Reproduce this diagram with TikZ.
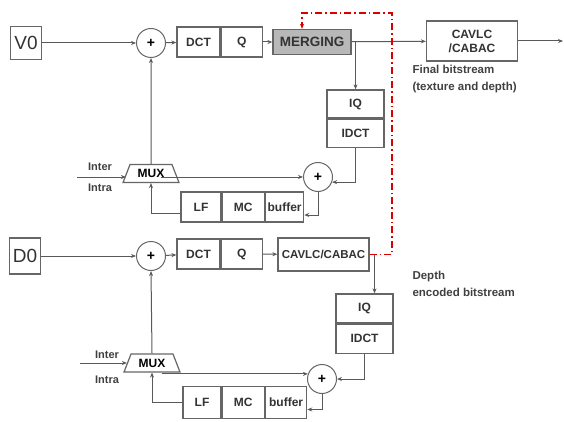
\documentclass[tikz,border=0pt]{standalone}
\usepackage{fontspec}
\setmainfont{Liberation Sans}
\usetikzlibrary{arrows.meta,positioning,shapes.geometric}

\begin{document}
\begin{tikzpicture}[x=1pt,y=-1pt,font=\bfseries\fontsize{12}{13}\selectfont,
  >={Stealth[length=5pt,width=4pt]},
  blk/.style={draw=black!60,line width=1.3pt,fill=white,inner sep=0pt,minimum height=30pt,text=black!80},
  src/.style={blk,font=\mdseries\fontsize{19}{19}\selectfont,minimum width=31pt,minimum height=33pt},
  sumc/.style={circle,draw=black!60,line width=1pt,fill=white,minimum size=29pt,inner sep=0pt,font=\bfseries\fontsize{14}{14}\selectfont},
  muxb/.style={trapezium,trapezium angle=62,trapezium stretches=true,draw=black!60,line width=1.2pt,fill=white,minimum width=56pt,minimum height=18pt,inner sep=0pt},
  lbl/.style={text=black!75,font=\bfseries\fontsize{11.5}{17}\selectfont,align=left},
  io/.style={text=black!75,font=\bfseries\fontsize{11}{11}\selectfont,inner sep=0pt},
  wire/.style={draw=black!65,line width=1pt},
  redl/.style={draw=red!85!black,line width=1.2pt,dash pattern=on 7pt off 3pt on 1.5pt off 3pt}]
\useasboundingbox (0,0) rectangle (564,422);
% texture (V0) branch
\node[src] (v0) at (26,43) {V0};
\node[sumc] (plus1) at (151,43) {+};
\node[blk,minimum width=43pt] (dct1) at (198.5,42) {DCT};
\node[blk,minimum width=41pt,right=0pt of dct1] (q1) {Q};
\node[blk,minimum width=78pt,minimum height=25pt,fill=black!28,font=\bfseries\fontsize{13.5}{14}\selectfont] (merge) at (312,42) {MERGING};
\node[blk,minimum width=91pt,minimum height=40pt,align=center,font=\bfseries\fontsize{12}{14}\selectfont] (cav1) at (472,41) {CAVLC\\/CABAC};
\coordinate (out1) at (563,41);
\node[lbl,anchor=north west] (fin) at (409,62) {Final bitstream\\(texture and depth)};
\node[blk,minimum width=57pt,minimum height=28pt] (iq1) at (355.5,104) {IQ};
\node[blk,minimum width=57pt,minimum height=28pt,below=0pt of iq1] (idct1) {IDCT};
\node[sumc] (plus2) at (318,177) {+};
\node[muxb] (mux1) at (151,173.5) {MUX};
\node[io] (inter1) at (100,167) {Inter};
\node[io] (intra1) at (100,188) {Intra};
\coordinate (in1) at (77,177);
\node[blk,minimum width=40pt] (lf1) at (201,207) {LF};
\node[blk,minimum width=42pt,right=0pt of lf1] (mc1) {MC};
\node[blk,minimum width=38pt,right=0pt of mc1] (buf1) {buffer};
% depth (D0) branch
\node[src,minimum height=36pt] (d0) at (25,256) {D0};
\node[sumc] (plus3) at (151,256) {+};
\node[blk,minimum width=43pt] (dct2) at (198.5,254) {DCT};
\node[blk,minimum width=41pt,right=0pt of dct2] (q2) {Q};
\node[blk,minimum width=91pt,minimum height=33pt,font=\bfseries\fontsize{11.5}{12}\selectfont] (cav2) at (323.5,254.5) {CAVLC/CABAC};
\node[lbl,anchor=north west] (dep) at (409,268) {Depth\\encoded bitstream};
\node[blk,minimum width=57pt,minimum height=29pt] (iq2) at (364.5,308.5) {IQ};
\node[blk,minimum width=57pt,minimum height=29pt,below=0pt of iq2] (idct2) {IDCT};
\node[sumc] (plus4) at (322,379) {+};
\node[muxb] (mux2) at (152,363) {MUX};
\node[io] (inter2) at (107,355) {Inter};
\node[io] (intra2) at (107,380) {Intra};
\coordinate (in2) at (80,363);
\node[blk,minimum width=38pt,minimum height=32pt] (lf2) at (202,402.5) {LF};
\node[blk,minimum width=42pt,minimum height=32pt,right=0pt of lf2] (mc2) {MC};
\node[blk,minimum width=41pt,minimum height=32pt,right=0pt of mc2] (buf2) {buffer};
% connectors, top
\draw[wire,->] (v0) -- (plus1);
\draw[wire,->] (plus1) -- (dct1);
\draw[wire,->] (q1) -- (merge);
\draw[wire,->] (merge) -- (cav1);
\draw[wire,->] (cav1) -- (out1);
\coordinate (br1) at (merge.east -| iq1.north);
\draw[wire,->] (br1) -- (iq1.north);
\draw[wire,->] (idct1.south) |- (plus2.-20);
\draw[wire,->] (plus2.west -| mux1.south east) -- (plus2.west);
\draw[wire,->] (in1) -- (in1 -| mux1.west);
\draw[wire,->] (mux1.north) -- (plus1.south);
\draw[wire,->] ([yshift=-6pt]lf1.west) -| (mux1.south);
\draw[wire,->] (plus2.south) |- ([yshift=-8pt]buf1.east);
% connectors, bottom
\draw[wire,->] (d0) -- (plus3);
\draw[wire,->] (plus3) -- (dct2);
\draw[wire,->] (q2) -- (cav2);
\draw[wire,->] (cav2.east) -| ([xshift=10pt]iq2.north);
\draw[wire,->] (idct2.south) |- (plus4.east);
\draw[wire,->] (plus4.160 -| mux2.south east) -- (plus4.160);
\draw[wire,->] (in2) -- (in2 -| mux2.west);
\draw[wire,->] (mux2.north) -- (plus3.south);
\draw[wire,->] (lf2.west) -| (mux2.south);
\draw[wire,->] (plus4.south) |- ([yshift=-7pt]buf2.east);
% depth stream fed back to merging
\coordinate (rc) at (392,13);
\draw[redl,->] (cav2.east) -| (rc) -| ([xshift=-10pt]merge.north);
\end{tikzpicture}
\end{document}
